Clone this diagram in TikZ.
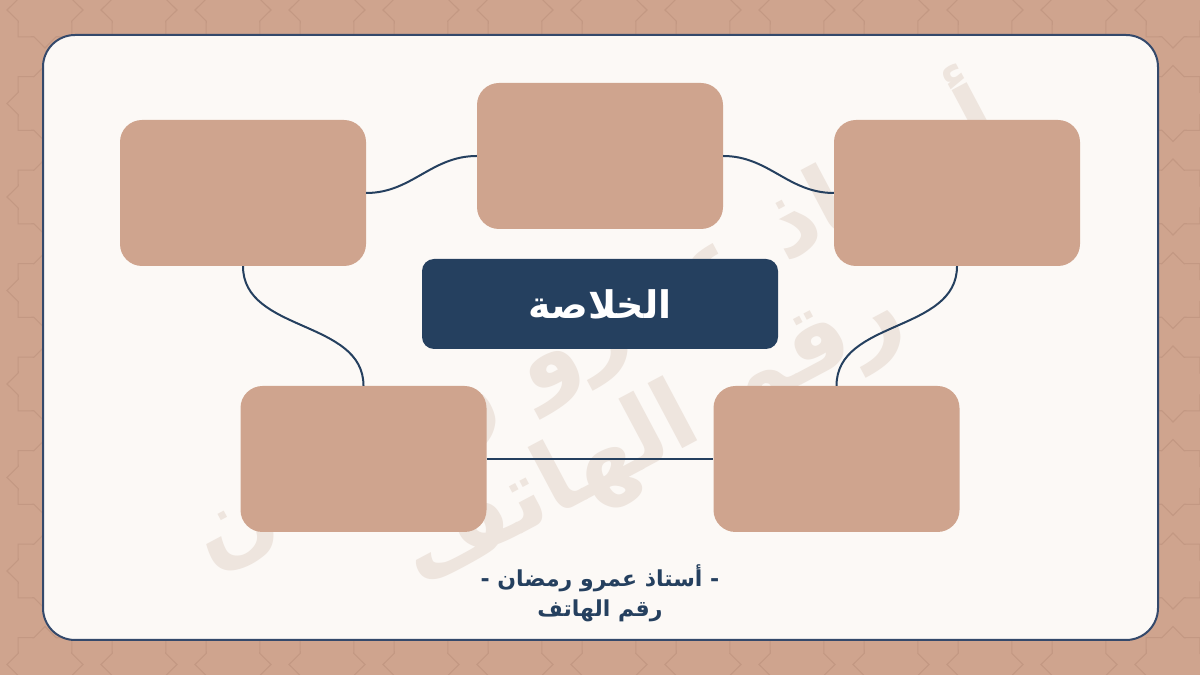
\documentclass[tikz,border=0pt]{standalone}
\usepackage{fontspec}
\newfontfamily\arabicfont[Script=Arabic]{DejaVu Sans}
\TeXXeTstate=1
\definecolor{sand}{HTML}{CFA48E}
\definecolor{sandline}{HTML}{C39883}
\definecolor{paper}{HTML}{FCF9F6}
\definecolor{navy}{HTML}{25405F}
\definecolor{frame}{HTML}{34496B}
\definecolor{ghost}{HTML}{EEE5DE}
\tikzset{
  card/.style={fill=sand, rounded corners=22pt, minimum width=246pt, minimum height=146pt, inner sep=0pt},
  titlebox/.style={fill=navy, rounded corners=12pt, minimum width=356pt, minimum height=90pt, inner sep=0pt,
    text=white, font=\arabicfont\bfseries\fontsize{38}{44}\selectfont},
  link/.style={draw=navy, line width=2pt},
  patline/.style={draw=sandline, line width=1.1pt},
}
% one eight pointed star of the background
\newcommand\starcell[2]{\draw[patline] (#1,#2) +(0:38) -- +(22.5:29) -- +(45:38) -- +(67.5:29)
  -- +(90:38) -- +(112.5:29) -- +(135:38) -- +(157.5:29) -- +(180:38) -- +(202.5:29)
  -- +(225:38) -- +(247.5:29) -- +(270:38) -- +(292.5:29) -- +(315:38) -- +(337.5:29) -- cycle;}

\begin{document}
\begin{tikzpicture}[x=1pt,y=1pt]
\useasboundingbox (0,0) rectangle (1200,675);
\fill[sand] (0,0) rectangle (1200,675);
\begin{scope}
\clip (0,0) rectangle (1200,675);
\foreach \i in {0,...,12}
{
  \foreach \j in {0,...,7}
  {
    \starcell{45+94*\i}{665-93.5*\j}
  }
}
\end{scope}

\draw[fill=paper, draw=frame, line width=2pt, rounded corners=32pt] (43,35) rectangle (1158,640);

\node[text=ghost, rotate=28, align=center, font=\arabicfont\bfseries\fontsize{97}{116}\selectfont] (mark) at (620,300)
  {\beginR أستاذ عمرو رمضان\endR\\\beginR رقم الهاتف\endR};

\node[card] (tl) at (243,482) {};
\node[card] (tm) at (600,519) {};
\node[card] (tr) at (957,482) {};
\node[card] (bl) at (363.5,216) {};
\node[card] (br) at (836.5,216) {};
\node[titlebox] (sum) at (600,371) {\beginR الخلاصة\endR};

\draw[link] (tl.east) to[out=0,in=180] (tm.west);
\draw[link] (tm.east) to[out=0,in=180] (tr.west);
\draw[link] (tl.south) to[out=-90,in=90] (bl.north);
\draw[link] (tr.south) to[out=-90,in=90] (br.north);
\draw[link] (bl.east) -- (br.west);

\node[text=navy, align=center, font=\arabicfont\bfseries\fontsize{22}{30}\selectfont] (sig) at (600,82)
  {\beginR - أستاذ عمرو رمضان -\endR\\\beginR رقم الهاتف\endR};
\end{tikzpicture}
\end{document}
